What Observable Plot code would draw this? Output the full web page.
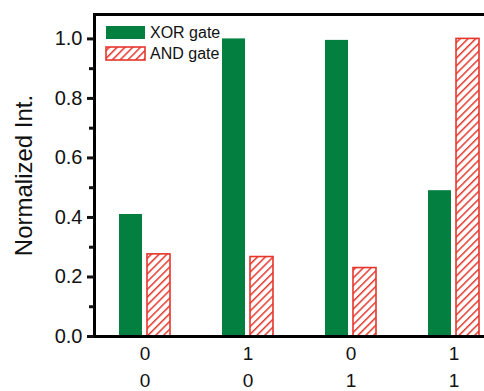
<!DOCTYPE html>
<html>
<head>
<meta charset="utf-8">
<script src="https://cdn.jsdelivr.net/npm/d3@7"></script>
<script src="https://cdn.jsdelivr.net/npm/@observablehq/plot@0.6"></script>
<style>
  html, body { margin: 0; padding: 0; background: #fff; overflow: hidden; }
  #chart svg { overflow: hidden; display: block; }
</style>
</head>
<body>
<div id="chart"></div>
<script>
// ---- data ----
const inputA = ["0", "1", "0", "1"];
const inputB = ["0", "0", "1", "1"];
const xorValues = [0.41, 1.0, 0.995, 0.49];
const andValues = [0.276, 0.267, 0.23, 1.0];
const seriesNames = ["XOR gate", "AND gate"];
const yTicks = [0, 0.2, 0.4, 0.6, 0.8, 1.0];
const yMinorTicks = [0.1, 0.3, 0.5, 0.7, 0.9];

const groups = inputA.map((a, i) => `${a}\n${inputB[i]}`);
const xorData = groups.map((g, i) => ({group: g, value: xorValues[i]}));
const andData = groups.map((g, i) => ({group: g, value: andValues[i]}));

const GREEN = "#03803f";
const RED = "#e6362c";

const plot = Plot.plot({
  width: 484,
  height: 391,
  marginLeft: 94,
  marginTop: 14,
  marginBottom: 55,
  marginRight: 0,
  style: {fontFamily: "'Liberation Sans', Arial, sans-serif", color: "#111", background: "#fff"},
  x: {type: "band", domain: groups, range: [65.3, 532.8], padding: 0.508},
  y: {domain: [0, 1.082]},
  marks: [
    Plot.barY(xorData, {x: "group", y: "value", fill: GREEN, insetRight: 28}),
    Plot.barY(andData, {x: "group", y: "value", fill: "url(#hatch)", stroke: RED, strokeWidth: 1.6, insetLeft: 28}),
    Plot.frame({anchor: "left", stroke: "#000", strokeWidth: 3}),
    Plot.frame({anchor: "top", stroke: "#000", strokeWidth: 3}),
    Plot.frame({anchor: "bottom", stroke: "#000", strokeWidth: 3}),
    Plot.axisY(yTicks, {tickSize: 7, strokeWidth: 3, tickPadding: 5, tickFormat: d3.format(".1f"),
      label: "Normalized Int.", labelAnchor: "center", labelArrow: "none", labelOffset: 80}),
    Plot.axisY(yMinorTicks, {tickSize: 5, strokeWidth: 3, tickFormat: () => "", label: null}),
    Plot.axisX({tickSize: 0, tickPadding: 4, lineHeight: 1.42, label: null})
  ]
});

const svg = d3.select(plot);
// font sizes matching the reference
svg.selectAll('g[aria-label="y-axis tick label"]').attr("font-size", 20);
svg.selectAll('g[aria-label="y-axis label"]').attr("font-size", 24);
svg.selectAll('g[aria-label="x-axis tick label"]').attr("font-size", 19);

// hatch pattern
const defs = svg.insert("defs", ":first-child");
const pat = defs.append("pattern")
  .attr("id", "hatch")
  .attr("patternUnits", "userSpaceOnUse")
  .attr("width", 5.5).attr("height", 5.5)
  .attr("patternTransform", "rotate(45)");
pat.append("rect").attr("width", 5.5).attr("height", 5.5).attr("fill", "#fff");
pat.append("line").attr("x1", 0).attr("y1", 0).attr("x2", 0).attr("y2", 5.5)
  .attr("stroke", RED).attr("stroke-width", 3);

// legend
const legend = svg.append("g")
  .attr("font-family", "'Liberation Sans', Arial, sans-serif")
  .attr("font-size", 16).attr("text-anchor", "start");
const swatchFills = [GREEN, "url(#hatch)"];
const swatchStrokes = ["none", RED];
seriesNames.forEach((name, i) => {
  const yTop = 26 + i * 21;
  legend.append("rect").attr("x", 106).attr("y", yTop).attr("width", 39).attr("height", 13)
    .attr("fill", swatchFills[i]).attr("stroke", swatchStrokes[i]).attr("stroke-width", 1.6);
  legend.append("text").attr("x", 150).attr("y", yTop + 6.5).attr("dy", "0.36em").attr("fill", "#111").text(name);
});

document.getElementById("chart").appendChild(plot);
</script>
</body>
</html>
